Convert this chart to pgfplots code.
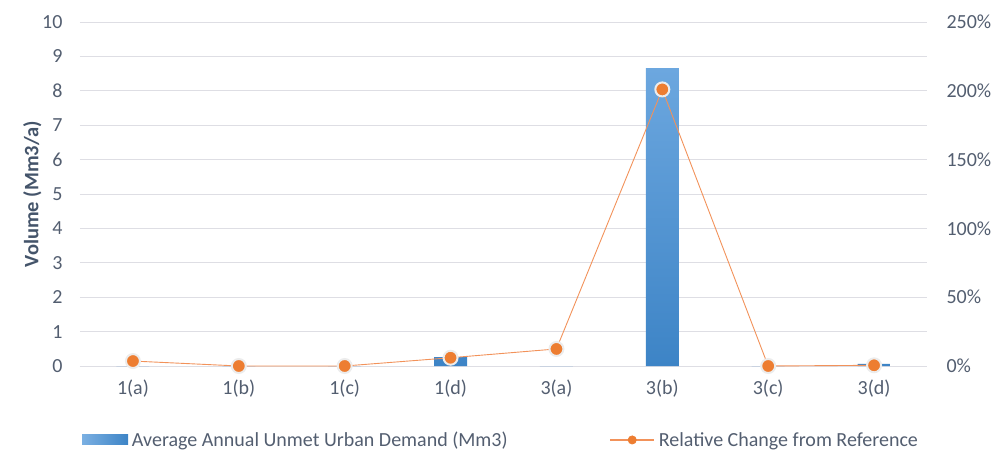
\documentclass[border=0pt]{standalone}
\usepackage{pgfplots}
\pgfplotsset{compat=1.18}
\usepackage{fontspec}
\setmainfont{Carlito}

\definecolor{txt}{HTML}{535E70}
\definecolor{axlab}{HTML}{44546A}
\definecolor{gridc}{HTML}{DEDEE4}
\definecolor{bartop}{HTML}{6CA7DF}
\definecolor{barbot}{HTML}{3D84C6}
\definecolor{orangeM}{HTML}{ED7D31}
\definecolor{orangeL}{HTML}{F2925A}

\begin{document}
\begin{tikzpicture}[font=\fontsize{20bp}{24bp}\selectfont]
\useasboundingbox (-80bp,-85bp) rectangle (915bp,366bp);

% Unmet urban demand (left axis, Mm3/a)
\begin{axis}[
  at={(0,0)}, anchor=south west,
  scale only axis, width=847bp, height=344bp,
  xmin=-0.5, xmax=7.5, ymin=0, ymax=10,
  ybar, bar width=33bp,
  xtick={0,...,7},
  xticklabels={1(a),1(b),1(c),1(d),3(a),3(b),3(c),3(d)},
  ytick={0,1,...,10},
  axis line style={draw=none},
  major tick length=0pt,
  ymajorgrids, grid style={gridc, line width=0.8bp},
  tick label style={text=txt, font=\fontsize{20bp}{24bp}\selectfont},
  /pgf/number format/assume math mode=true,
  yticklabel style={xshift=-14bp},
  xticklabel style={yshift=-10bp},
  ylabel={\textbf{Volume (Mm3/a)}},
  ylabel shift=-6bp,
  ylabel style={text=axlab, font=\fontsize{20.5bp}{24bp}\selectfont},
  clip=false,
]
\addplot[draw=none, top color=bartop, bottom color=barbot]
  coordinates {(0,0) (1,0) (2,0) (3,0.26) (4,0) (5,8.66) (6,0) (7,0.06)};
\end{axis}

% Relative change from reference (right axis, %)
\begin{axis}[
  at={(0,0)}, anchor=south west,
  scale only axis, width=847bp, height=344bp,
  xmin=-0.5, xmax=7.5, ymin=0, ymax=250,
  axis x line=none,
  axis y line*=right,
  axis line style={draw=none},
  major tick length=0pt,
  ytick={0,50,...,250},
  yticklabel={\pgfmathprintnumber{\tick}\%},
  /pgf/number format/assume math mode=true,
  tick label style={text=txt, font=\fontsize{20bp}{24bp}\selectfont},
  yticklabel style={anchor=west, xshift=16bp},
  clip=false,
  legend columns=2,
  legend style={
    at={(0.497,-0.215)}, anchor=center, draw=none, fill=none,
    text=txt, font=\fontsize{20bp}{24bp}\selectfont,
    /tikz/every odd column/.append style={column sep=2bp},
    /tikz/every even column/.append style={column sep=100bp},
  },
]
\addlegendimage{legend image code/.code={
    \fill[draw=none, left color=bartop!90!white, right color=barbot] (0bp,-5bp) rectangle (46bp,5bp);}}
\addlegendentry{Average Annual Unmet Urban Demand (Mm3)}
\addplot[orangeL, line width=0.9bp, mark=*, mark size=7bp,
  mark options={fill=orangeM, draw=white!85!gray, line width=2bp},
  legend image code/.code={
    \draw[orangeL, line width=1.2bp] (0bp,0bp) -- (44bp,0bp);
    \fill[orangeM] (22bp,0bp) circle (4bp);}]
  coordinates {(0,3.6) (1,0) (2,0) (3,6.0) (4,12.4) (5,201) (6,0) (7,0.5)};
\addlegendentry{Relative Change from Reference}
\end{axis}
\end{tikzpicture}
\end{document}
